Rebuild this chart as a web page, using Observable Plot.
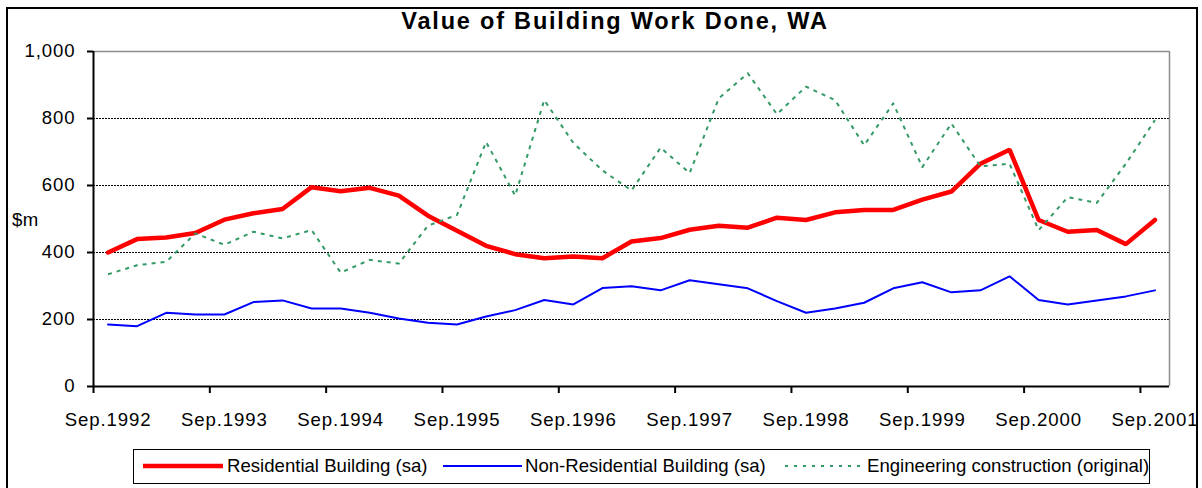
<!DOCTYPE html>
<html>
<head>
<meta charset="utf-8">
<script src="https://cdn.jsdelivr.net/npm/d3@7"></script>
<script src="https://cdn.jsdelivr.net/npm/@observablehq/plot@0.6"></script>
<style>
  html, body { margin: 0; padding: 0; background: #fff; }
  #wrap { position: relative; width: 1202px; height: 488px; overflow: hidden; background: #fff;
          font-family: "Liberation Sans", Arial, sans-serif; color: #000; }
  #frame { position: absolute; left: 6px; top: 7px; width: 1192px; height: 520px; border: 2px solid #000; box-sizing: border-box; }
  #chart { position: absolute; left: 0; top: 0; }
  #chart svg text { letter-spacing: 0.9px; font-size: 18.6px; font-weight: normal; }
  .lbl { position: absolute; white-space: nowrap; line-height: 1; }
  #title { left: 615px; top: 10px; transform: translateX(-50%); font-weight: bold; font-size: 23.5px; letter-spacing: 1.8px; }
  #unit { left: 12px; top: 211px; font-size: 18.6px; letter-spacing: 0.5px; }
  #legend { position: absolute; left: 133px; top: 449px; width: 1017px; height: 35px; border: 1.5px solid #000; box-sizing: border-box; }
  .ltxt { position: absolute; top: 457px; font-size: 18.6px; line-height: 1; white-space: nowrap; }
  #lsvg { position: absolute; left: 0; top: 0; }
</style>
</head>
<body>
<div id="wrap">
  <div id="frame"></div>
  <div id="chart"></div>
  <div id="title" class="lbl"></div>
  <div id="unit" class="lbl"></div>
  <div id="legend"></div>
  <svg id="lsvg" width="1202" height="488"></svg>
</div>
<script>
// ---- data (quarterly, WA, $m) ----
const quarters = [
  "Sep.1992","Dec.1992","Mar.1993","Jun.1993",
  "Sep.1993","Dec.1993","Mar.1994","Jun.1994",
  "Sep.1994","Dec.1994","Mar.1995","Jun.1995",
  "Sep.1995","Dec.1995","Mar.1996","Jun.1996",
  "Sep.1996","Dec.1996","Mar.1997","Jun.1997",
  "Sep.1997","Dec.1997","Mar.1998","Jun.1998",
  "Sep.1998","Dec.1998","Mar.1999","Jun.1999",
  "Sep.1999","Dec.1999","Mar.2000","Jun.2000",
  "Sep.2000","Dec.2000","Mar.2001","Jun.2001",
  "Sep.2001"
];
const residential = [400, 440, 445, 458, 498, 517, 530, 595, 583, 593, 570, 510, 465,
  420, 395, 383, 388, 383, 433, 443, 468, 480, 474, 504, 497,
  520, 527, 527, 558, 582, 665, 707, 497, 462, 467, 425, 497];
const nonResidential = [185, 180, 220, 215, 215, 252, 257, 233, 233, 220, 203, 190, 185,
  209, 228, 258, 245, 294, 299, 287, 317, 305, 293, 255, 220,
  233, 250, 293, 311, 281, 287, 329, 258, 245, 257, 269, 287];
const engineering = [335, 362, 372, 457, 423, 462, 442, 467, 340, 378, 367, 480, 512,
  730, 570, 855, 727, 645, 585, 713, 637, 860, 935, 813, 895,
  855, 720, 845, 655, 785, 657, 665, 467, 565, 548, 665, 795];
const tickLabels = ["Sep.1992","Sep.1993","Sep.1994","Sep.1995","Sep.1996","Sep.1997","Sep.1998","Sep.1999","Sep.2000","Sep.2001"];
const yTicks = [0, 200, 400, 600, 800, 1000];
const gridValues = [200, 400, 600, 800];
const seriesNames = ["Residential Building (sa)", "Non-Residential Building (sa)", "Engineering construction (original)"];
const titleText = "Value of Building Work Done, WA";
const unitText = "$m";

// ---- derived tables ----
const labelIdx = tickLabels.map(t => quarters.indexOf(t));
const boundaries = labelIdx.map(i => i - 0.5);
const resTable = residential.map((v, i) => ({i, v}));
const nonTable = nonResidential.map((v, i) => ({i, v}));
const engTable = engineering.map((v, i) => ({i, v}));

const chart = Plot.plot({
  width: 1202,
  height: 488,
  marginLeft: 93,
  marginRight: 33,
  marginTop: 51,
  marginBottom: 102,
  x: {type: "linear", domain: [-0.5, quarters.length - 0.5], axis: null},
  y: {domain: [0, 1000], axis: null},
  style: {fontFamily: "'Liberation Sans', Arial, sans-serif", fontSize: "18.6px", color: "#000", background: "transparent"},
  marks: [
    Plot.ruleY(gridValues, {stroke: "#000", strokeWidth: 1, strokeDasharray: "2,1"}),
    Plot.ruleY([1000], {stroke: "#8c8c8c", strokeWidth: 1.5}),
    Plot.ruleX([quarters.length - 0.5], {stroke: "#8c8c8c", strokeWidth: 1.5}),
    Plot.lineY(resTable, {x: "i", y: "v", stroke: "#ff0000", strokeWidth: 4.5, strokeLinejoin: "miter"}),
    Plot.lineY(nonTable, {x: "i", y: "v", stroke: "#0000ff", strokeWidth: 2, strokeLinejoin: "miter"}),
    Plot.lineY(engTable, {x: "i", y: "v", stroke: "#339966", strokeWidth: 2, strokeDasharray: "4,5", strokeLinecap: "butt"}),
    Plot.axisY({ticks: yTicks, tickFormat: d3.format(","), tickSize: 6, tickPadding: 12, strokeWidth: 2, fontSize: 18.6, label: null}),
    Plot.axisX({ticks: boundaries, tickFormat: () => "", tickSize: 7, strokeWidth: 2, label: null}),
    Plot.axisX({ticks: labelIdx, tickFormat: i => quarters[i], tickSize: 0, tickPadding: 26, fontSize: 18.6, label: null}),
    Plot.ruleY([0], {stroke: "#000", strokeWidth: 2}),
    Plot.ruleX([-0.5], {stroke: "#000", strokeWidth: 2})
  ]
});
document.getElementById("chart").appendChild(chart);
document.getElementById("title").textContent = titleText;
document.getElementById("unit").textContent = unitText;

// ---- legend ----
const legendItems = [
  {name: seriesNames[0], color: "#ff0000", width: 4.5, dash: null, x1: 143, x2: 223, tx: 227},
  {name: seriesNames[1], color: "#0000ff", width: 2, dash: null, x1: 443, x2: 522, tx: 525},
  {name: seriesNames[2], color: "#339966", width: 2, dash: "3,6", x1: 785, x2: 862, tx: 867}
];
const lsvg = d3.select("#lsvg");
const wrap = document.getElementById("wrap");
legendItems.forEach(it => {
  const ln = lsvg.append("line").attr("x1", it.x1).attr("x2", it.x2).attr("y1", 466).attr("y2", 466)
    .attr("stroke", it.color).attr("stroke-width", it.width);
  if (it.dash) ln.attr("stroke-dasharray", it.dash);
  const t = document.createElement("div");
  t.className = "ltxt";
  t.style.left = it.tx + "px";
  t.textContent = it.name;
  wrap.appendChild(t);
});
</script>
</body>
</html>
